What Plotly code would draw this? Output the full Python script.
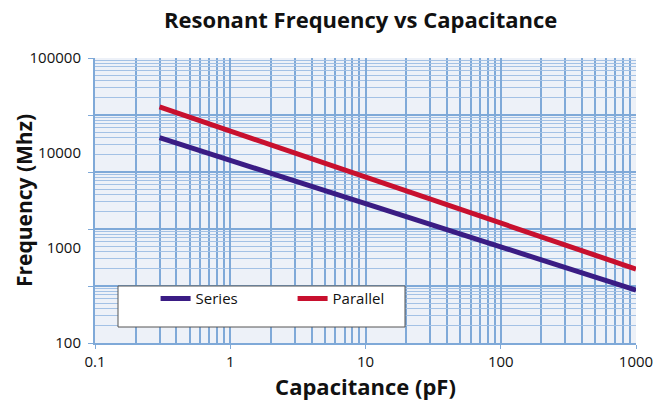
import plotly.graph_objects as go

# ---- data ----
capacitance_pf = [0.3, 1, 10, 100, 1000]
series_mhz = [14500, 8400, 2950, 1040, 360]
parallel_mhz = [30500, 17100, 5600, 1850, 600]
y_tick_vals = [100, 1000, 10000, 100000]
y_tick_text = ["100", "1000", "10000", "100000"]
x_tick_vals = [0.1, 1, 10, 100, 1000]
x_tick_text = ["0.1", "1", "10", "100", "1000"]

GRID = "#7fa9d8"
FONT = "Open Sans, Noto Sans, DejaVu Sans, sans-serif"

# grid positions (log minor lines)
x_minor = [m * 10 ** e for e in range(-1, 3) for m in range(2, 10)]
g_major = [10 ** e for e in range(0, 6)]
g_minor = [m * 10 ** e for e in range(0, 5) for m in range(2, 10)]

fig = go.Figure()
# invisible anchor trace so the grid axis is rendered
fig.add_trace(go.Scatter(x=[1], y=[10], mode="markers", marker=dict(opacity=0),
                         showlegend=False, hoverinfo="skip", yaxis="y"))
fig.add_trace(go.Scatter(x=capacitance_pf, y=series_mhz, name="Series", mode="lines",
                         line=dict(color="#3a1c84", width=5), yaxis="y2"))
fig.add_trace(go.Scatter(x=capacitance_pf, y=parallel_mhz, name="Parallel", mode="lines",
                         line=dict(color="#c8102e", width=5), yaxis="y2"))

fig.update_layout(
    width=668, height=403,
    margin=dict(l=95, r=32, t=58, b=60),
    paper_bgcolor="white",
    plot_bgcolor="#edf1f8",
    font=dict(family=FONT, color="#111111", size=15),
    title=dict(text="<b>Resonant Frequency vs Capacitance</b>", x=0.54, xanchor="center",
               y=0.95, yanchor="middle", font=dict(size=22, family=FONT, color="#111111")),
    xaxis=dict(type="log", range=[-1, 3], tickvals=x_tick_vals, ticktext=x_tick_text,
               showgrid=True, gridcolor=GRID, gridwidth=2, automargin=False,
               ticks="outside", ticklen=4, tickcolor=GRID, tickwidth=1,
               showline=True, linecolor=GRID, linewidth=2,
               tickfont=dict(size=15),
               minor=dict(tickvals=x_minor, showgrid=True, gridcolor=GRID, gridwidth=2, ticks=""),
               title=dict(text="<b>Capacitance (pF)</b>", font=dict(size=22), standoff=2),
               zeroline=False),
    yaxis=dict(type="log", range=[0, 5], tickvals=g_major, showticklabels=False,
               showgrid=True, gridcolor=GRID, gridwidth=1.5, automargin=False,
               ticks="outside", ticklen=5, tickcolor=GRID, tickwidth=1,
               showline=True, linecolor=GRID, linewidth=2,
               minor=dict(tickvals=g_minor, showgrid=True, gridcolor="#a3c1e5", gridwidth=1, ticks=""),
               title=dict(text="<b>Frequency (Mhz)</b>", font=dict(size=21), standoff=50),
               zeroline=False),
    yaxis2=dict(type="log", range=[2, 5], overlaying="y", side="left", anchor="x",
                tickvals=y_tick_vals, ticktext=y_tick_text, showgrid=False, automargin=False,
                ticks="outside", ticklen=10, tickcolor="rgba(0,0,0,0)",
                tickfont=dict(size=15), zeroline=False, showline=False),
    legend=dict(orientation="h", x=0.112, y=0.155, xanchor="left", yanchor="middle",
                bgcolor="rgba(0,0,0,0)", borderwidth=0, entrywidth=92,
                font=dict(size=15, family=FONT, color="#111111")),
    shapes=[dict(type="rect", xref="paper", yref="paper",
                 x0=(118 - 95) / 541, x1=(405 - 95) / 541,
                 y0=(343 - 327) / 285, y1=(343 - 286) / 285,
                 fillcolor="white", line=dict(color="#555555", width=1), layer="above")],
)

fig.write_html("out.html", config={"displayModeBar": False},
               post_script="document.body.style.margin='0';document.body.style.overflow='hidden';")
